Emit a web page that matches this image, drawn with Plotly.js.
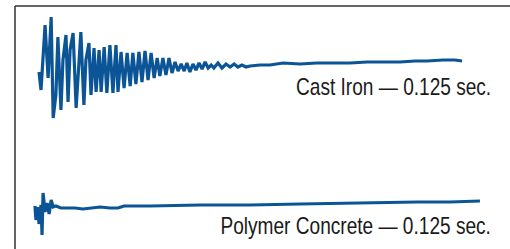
<!DOCTYPE html>
<html>
<head>
<meta charset="utf-8">
<script src="https://cdn.plot.ly/plotly-3.0.1.min.js"></script>
<style>html,body{margin:0;padding:0;background:#fff;}#chart{width:510px;height:249px;}</style>
</head>
<body>
<div id="chart"></div>
<script>
// Time in milliseconds, amplitude in arbitrary units
var castIronTime = [-0.3,0.3,1.5,2.4,3.3,3.9,4.7,5.3,6.2,6.8,7.7,8.3,8.9,9.8,
  10.7,11.6,12.1,13.0,13.6,14.5,15.1,16.0,16.6,17.5,18.1,19.0,19.8,20.7,21.6,22.5,23.1,
  24.0,24.9,25.8,26.7,27.5,28.4,29.3,30.2,31.1,32.0,32.9,33.8,34.7,35.5,36.4,37.3,38.2,39.1,40.0,40.9,41.8,42.7,43.5,44.4,45.3,46.2,47.1,48.0,48.9,49.8,50.7,51.5,
  52.7,53.9,55.1,56.3,57.5,58.6,59.8,61.0,62.2,
  65.2,68.1,72.0,77.0,82.0,86.8,91.8,96.9,101.6,106.6,111.1,114.6,119.4,122.9,125.0];
var castIronAmp = [-6,-24,41,-12,49,-52,-29,29,-44,6,31,-36,16,33,
  -42,6,34,-39,6,23,-29,18,-26,16,-26,19,-27,21,-27,21,-26,
  14,-22,13,-20,13,-18,14,-16,15,-14,13,-12,8,-10,8,-9,8,-7,4,-5,2,-5,3,-6,2,-4,3,-3,4,-2,1,-2,
  3,-2,2,-1,2,-1,1,-1,0,
  1,1,3,2,3,3,3,4,4,4,5,5,6,6,5];

var polyTime = [-1.5,-1.2,-0.6,-0.3,0.3,0.6,0.9,1.5,2.1,2.7,3.3,3.9,4.7,6.2,8.3,10.4,12.7,15.4,17.8,20.7,23.1,24.0,24.9,28.1,32.6,47.4,62.2,77.0,91.8,111.7,121.4,130.3];
var polyAmp = [2,-12,1,-16,3,-27,15,-4,5,-6,8,1,2,0,0,0,-1,0,1,0,0,1,2,2,2,3,3,4,5,6,6,7];

var labels = ["Cast Iron \u2014 0.125 sec.", "Polymer Concrete \u2014 0.125 sec."];

var lineColor = "#0b5597";
var traces = [
  {x: castIronTime, y: castIronAmp, xaxis: "x", yaxis: "y", mode: "lines",
   line: {color: lineColor, width: 3.2}, hoverinfo: "skip"},
  {x: polyTime, y: polyAmp, xaxis: "x", yaxis: "y2", mode: "lines",
   line: {color: lineColor, width: 3.2}, hoverinfo: "skip"}
];

var hidden = {showgrid: false, zeroline: false, showticklabels: false, showline: false, ticks: ""};
var labelFont = {family: "Liberation Sans, Arial, sans-serif", size: 23, color: "#1a1a1a"};
var layout = {
  width: 510, height: 249,
  margin: {l: 0, r: 0, t: 0, b: 0},
  paper_bgcolor: "#ffffff", plot_bgcolor: "rgba(0,0,0,0)",
  showlegend: false,
  xaxis: Object.assign({range: [-11.85, 139.2], fixedrange: true}, hidden),
  yaxis: Object.assign({domain: [0.5, 1], range: [-58.5, 66], fixedrange: true}, hidden),
  yaxis2: Object.assign({domain: [0, 0.5], range: [-41, 83.5], fixedrange: true}, hidden),
  shapes: [
    {type: "line", xref: "paper", yref: "paper", x0: 0.0294, x1: 1.01, y0: 0.9759, y1: 0.9759,
     line: {color: "#333333", width: 1.5}},
    {type: "line", xref: "paper", yref: "paper", x0: 0.0294, x1: 0.0294, y0: 0.9759, y1: -0.01,
     line: {color: "#333333", width: 1.5}}
  ],
  annotations: [
    {text: labels[0], xref: "paper", yref: "paper", x: 0.9665, y: 0.6506, xanchor: "right", yanchor: "middle",
     showarrow: false, font: labelFont},
    {text: labels[1], xref: "paper", yref: "paper", x: 0.9665, y: 0.0924, xanchor: "right", yanchor: "middle",
     showarrow: false, font: labelFont}
  ]
};
Plotly.newPlot("chart", traces, layout, {displayModeBar: false, staticPlot: true}).then(function (gd) {
  // condense the label text horizontally (narrow typeface look), anchored at its right edge
  var texts = gd.querySelectorAll("g.annotation-text-g text");
  texts.forEach(function (t) {
    var bb = t.getBBox();
    var right = bb.x + bb.width;
    t.setAttribute("transform", "translate(" + right + ",0) scale(0.83,1) translate(" + (-right) + ",0)");
  });
});
</script>
</body>
</html>
